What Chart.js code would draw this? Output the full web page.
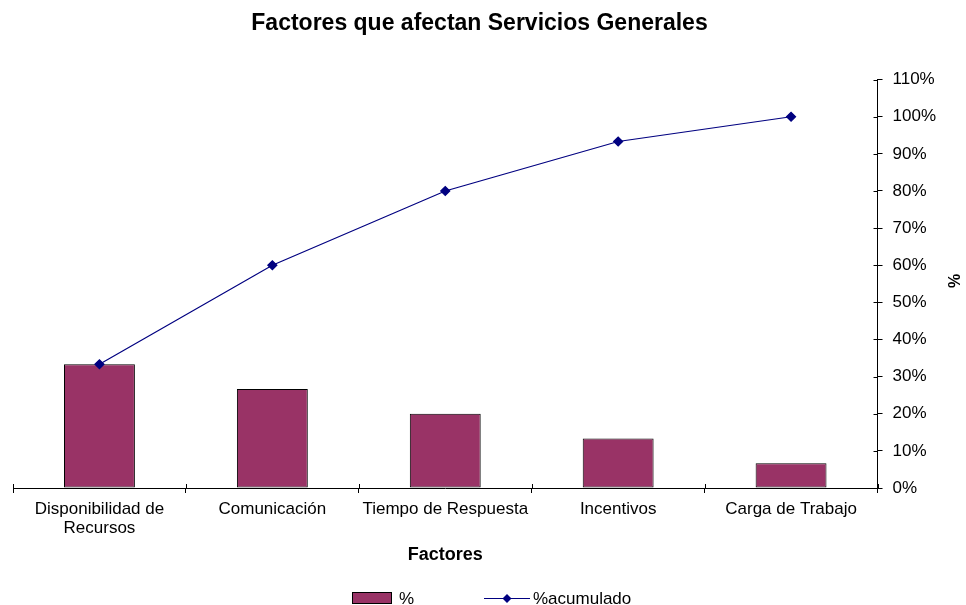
<!DOCTYPE html>
<html>
<head>
<meta charset="utf-8">
<title>Factores que afectan Servicios Generales</title>
<script src="https://cdn.jsdelivr.net/npm/chart.js@4"></script>
<style>
  html, body { margin: 0; padding: 0; background: #fff; }
  #wrap { width: 966px; height: 605px; }
</style>
</head>
<body>
<div id="wrap"><canvas id="paretoChart" width="966" height="605"></canvas></div>
<script>
// ================= PARETO: SERVICIOS GENERALES =================
const factores = [["Disponibilidad de", "Recursos"], "Comunicación", "Tiempo de Respuesta", "Incentivos", "Carga de Trabajo"];
const porcentaje = [0.3333, 0.2667, 0.2, 0.1333, 0.0667];
const acumulado = [0.3333, 0.6, 0.8, 0.9333, 1.0];
const yTicks = [0, 0.1, 0.2, 0.3, 0.4, 0.5, 0.6, 0.7, 0.8, 0.9, 1.0, 1.1];

const FONT = "'Liberation Sans', Arial, sans-serif";
const BAR_COLOR = "#993366";
const LINE_COLOR = "#000080";
Chart.defaults.font.family = FONT;
Chart.defaults.color = "#000";

// "%" axis title, rotated to read bottom-up
const rightTitle = {
    id: "rightTitle",
    afterDraw(chart) {
        const ctx = chart.ctx;
        const y = chart.scales.y;
        ctx.save();
        ctx.translate(956, (y.top + y.bottom) / 2 - 3);
        ctx.rotate(-Math.PI / 2);
        ctx.font = "bold 16px " + FONT;
        ctx.fillStyle = "#000";
        ctx.textAlign = "center";
        ctx.textBaseline = "middle";
        ctx.fillText("%", 0, 0);
        ctx.restore();
    }
};

// tick marks that cross into the plot on both axes
const innerTicks = {
    id: "innerTicks",
    afterDraw(chart) {
        const ctx = chart.ctx;
        const x = chart.scales.x;
        const y = chart.scales.y;
        ctx.save();
        ctx.strokeStyle = "#000";
        ctx.lineWidth = 1;
        yTicks.forEach(v => {
            const py = Math.round(y.getPixelForValue(v)) + 0.5;
            ctx.beginPath();
            ctx.moveTo(y.left - 4, py);
            ctx.lineTo(y.left, py);
            ctx.stroke();
        });
        const step = (x.right - x.left) / factores.length;
        for (let i = 0; i <= factores.length; i++) {
            const px = Math.round(x.left + i * step) + 0.5;
            ctx.beginPath();
            ctx.moveTo(px, x.top - 4);
            ctx.lineTo(px, x.top);
            ctx.stroke();
        }
        ctx.restore();
    }
};

// legend along the bottom: box for the bars, line with diamond for the cumulative
const bottomLegend = {
    id: "bottomLegend",
    afterDraw(chart) {
        const ctx = chart.ctx;
        const cy = 598;
        const bars = chart.data.datasets[1];
        const line = chart.data.datasets[0];
        ctx.save();
        ctx.font = "17px " + FONT;
        ctx.textBaseline = "middle";
        ctx.textAlign = "left";

        ctx.fillStyle = BAR_COLOR;
        ctx.fillRect(352, cy - 6, 40, 12);
        ctx.strokeStyle = "#000";
        ctx.lineWidth = 1;
        ctx.strokeRect(352.5, cy - 5.5, 39, 11);
        ctx.fillStyle = "#000";
        ctx.fillText(bars.label, 399, cy + 1);

        ctx.strokeStyle = LINE_COLOR;
        ctx.beginPath();
        ctx.moveTo(484, cy + 0.5);
        ctx.lineTo(530, cy + 0.5);
        ctx.stroke();
        ctx.fillStyle = LINE_COLOR;
        ctx.beginPath();
        ctx.moveTo(507, cy - 4);
        ctx.lineTo(511.5, cy + 0.5);
        ctx.lineTo(507, cy + 5);
        ctx.lineTo(502.5, cy + 0.5);
        ctx.closePath();
        ctx.fill();
        ctx.fillStyle = "#000";
        ctx.fillText(line.label, 533, cy + 1);
        ctx.restore();
    }
};

new Chart(document.getElementById("paretoChart"), {
    type: "bar",
    data: {
        labels: factores,
        datasets: [
            {
                type: "line",
                label: "%acumulado",
                data: acumulado,
                borderColor: LINE_COLOR,
                backgroundColor: LINE_COLOR,
                borderWidth: 1.2,
                pointStyle: "rectRot",
                pointRadius: 4.5,
                pointHoverRadius: 4.5,
                fill: false,
                tension: 0,
                order: 0
            },
            {
                label: "%",
                data: porcentaje,
                backgroundColor: BAR_COLOR,
                borderColor: "#000",
                borderWidth: 1,
                borderSkipped: false,
                categoryPercentage: 0.82,
                barPercentage: 0.5,
                order: 1
            }
        ]
    },
    options: {
        responsive: false,
        animation: false,
        layout: { padding: { left: 13, right: 20, top: 0, bottom: 30 } },
        plugins: {
            title: {
                display: true,
                text: "Factores que afectan Servicios Generales",
                font: { size: 23, weight: "bold" },
                color: "#000",
                padding: { top: 10, bottom: 42 }
            },
            legend: { display: false },
            tooltip: { enabled: false }
        },
        scales: {
            x: {
                offset: true,
                grid: {
                    offset: true,
                    drawOnChartArea: false,
                    drawTicks: true,
                    tickLength: 5,
                    color: "#000"
                },
                border: { color: "#000", width: 1 },
                ticks: {
                    font: { size: 17, lineHeight: 1.1 },
                    color: "#000",
                    maxRotation: 0,
                    autoSkip: false,
                    padding: 7
                },
                title: {
                    display: true,
                    text: "Factores",
                    font: { size: 18, weight: "bold" },
                    color: "#000",
                    padding: { top: 0, bottom: 9 }
                }
            },
            y: {
                position: "right",
                min: 0,
                max: 1.1,
                afterBuildTicks(scale) {
                    scale.ticks = yTicks.map(v => ({ value: v }));
                },
                grid: {
                    drawOnChartArea: false,
                    drawTicks: true,
                    tickLength: 5,
                    color: "#000"
                },
                border: { color: "#000", width: 1 },
                ticks: {
                    font: { size: 17 },
                    color: "#000",
                    padding: 10,
                    callback: v => Math.round(v * 100) + "%"
                }
            }
        }
    },
    plugins: [rightTitle, innerTicks, bottomLegend]
});
</script>
</body>
</html>
